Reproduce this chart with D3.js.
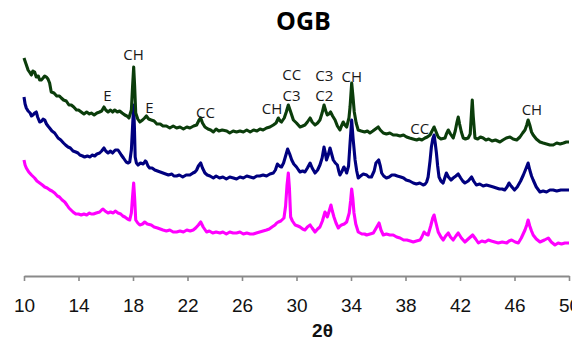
<!DOCTYPE html>
<html>
<head>
<meta charset="utf-8">
<script src="https://cdn.jsdelivr.net/npm/d3@7"></script>
<style>
  html, body { margin: 0; padding: 0; background: #fff; }
  svg { display: block; }
</style>
</head>
<body>
<script>
// ---- DATA: [2θ (deg), intensity (a.u., offset as plotted)] ----
const seriesColors = ["#0b3d0b", "#00007f", "#ff00ff"];

const greenData = [[10.0,218],[10.15,212],[10.3,206],[10.45,203],[10.54,201],[10.65,205],[10.78,204],[10.9,199],[11.05,200],[11.15,196],[11.27,196],[11.4,198],[11.52,200],[11.64,199],[11.76,197],[11.88,193],[12.0,184],[12.2,183],[12.4,180],[12.6,180],[12.74,178],[12.9,176],[13.1,175],[13.3,171],[13.47,171],[13.65,169],[13.85,166],[14.0,166],[14.2,164],[14.4,162],[14.6,164],[14.8,162],[14.94,163],[15.15,161],[15.35,163],[15.55,164],[15.7,165],[15.87,169],[16.0,166],[16.17,164],[16.35,166],[16.5,164],[16.66,166],[16.85,164],[17.02,165],[17.2,163],[17.4,161],[17.55,160],[17.7,158],[17.88,166],[17.97,190],[18.05,209],[18.12,190],[18.2,163],[18.35,157],[18.5,154],[18.7,156],[18.85,158],[18.98,160],[19.15,157],[19.34,156],[19.55,155],[19.75,152],[20.0,152],[20.2,150],[20.45,150],[20.7,148],[20.95,150],[21.2,148],[21.45,149],[21.7,147],[21.95,149],[22.18,148],[22.45,150],[22.67,151],[22.85,156],[22.97,158],[23.1,153],[23.28,149],[23.5,147],[23.7,146],[23.9,144],[24.1,147],[24.3,145],[24.55,146],[24.88,145],[25.1,143],[25.35,145],[25.6,144],[25.85,145],[26.1,144],[26.35,146],[26.6,144],[26.85,146],[27.1,145],[27.32,147],[27.55,146],[27.8,148],[28.05,149],[28.3,151],[28.5,153],[28.67,158],[28.8,155],[28.9,154],[29.1,158],[29.25,164],[29.4,171],[29.55,165],[29.77,156],[30.0,153],[30.26,149],[30.45,150],[30.62,151],[30.8,154],[31.0,158],[31.15,154],[31.36,151],[31.55,153],[31.72,156],[31.88,163],[32.02,171],[32.15,165],[32.26,161],[32.38,162],[32.5,164],[32.65,160],[32.83,156],[33.0,150],[33.19,146],[33.3,150],[33.43,154],[33.55,151],[33.68,149],[33.85,158],[33.93,169],[34.05,193],[34.14,180],[34.24,164],[34.38,153],[34.53,146],[34.75,145],[35.0,144],[35.2,145],[35.39,143],[35.6,145],[35.8,147],[36.0,149],[36.15,146],[36.37,143],[36.6,142],[36.85,143],[37.1,141],[37.35,141],[37.6,140],[37.85,141],[38.08,139],[38.3,138],[38.55,137],[38.82,136],[39.0,137],[39.2,136],[39.43,138],[39.6,139],[39.8,141],[39.95,145],[40.1,149],[40.25,144],[40.4,139],[40.6,137],[40.9,138],[41.0,142],[41.14,146],[41.3,142],[41.5,138],[41.65,145],[41.78,154],[41.87,159],[41.97,152],[42.1,144],[42.24,138],[42.4,137],[42.6,138],[42.75,142],[42.85,165],[42.9,176],[42.97,160],[43.1,138],[43.3,137],[43.5,139],[43.7,138],[43.9,136],[44.1,137],[44.35,135],[44.6,136],[44.93,134],[45.15,136],[45.4,138],[45.67,139],[45.9,137],[46.16,136],[46.4,139],[46.6,143],[46.77,146],[46.9,151],[47.0,156],[47.12,151],[47.25,144],[47.37,141],[47.6,137],[47.87,134],[48.1,133],[48.35,132],[48.6,131],[48.84,131],[49.1,133],[49.35,132],[49.6,133],[49.8,134],[50.0,134]];

const navyData = [[10.0,179],[10.08,172],[10.17,168],[10.3,165],[10.45,163],[10.55,160],[10.66,161],[10.78,163],[10.9,164],[11.0,159],[11.15,154],[11.3,155],[11.4,157],[11.52,156],[11.65,152],[11.76,150],[11.88,148],[12.05,145],[12.25,143],[12.35,141],[12.5,138],[12.7,136],[12.9,133],[13.05,131],[13.23,129],[13.4,128],[13.6,125],[13.8,124],[13.96,123],[14.1,121],[14.3,120],[14.45,119],[14.65,120],[14.85,119],[15.0,121],[15.19,120],[15.35,122],[15.55,123],[15.7,125],[15.87,128],[16.0,125],[16.17,123],[16.35,125],[16.5,123],[16.7,126],[16.9,126],[17.0,124],[17.14,121],[17.3,118],[17.5,114],[17.65,113],[17.76,114],[17.88,126],[17.97,150],[18.05,171],[18.1,150],[18.16,119],[18.25,113],[18.37,111],[18.55,113],[18.75,112],[18.9,115],[18.98,114],[19.1,110],[19.22,108],[19.4,108],[19.6,106],[19.8,105],[20.0,104],[20.2,103],[20.4,102],[20.6,101],[20.85,102],[21.0,100],[21.2,100],[21.4,101],[21.65,99],[21.9,101],[22.18,101],[22.4,103],[22.55,104],[22.67,106],[22.8,110],[22.97,113],[23.1,108],[23.28,103],[23.45,101],[23.65,100],[23.9,98],[24.1,100],[24.35,98],[24.6,99],[24.85,97],[25.1,99],[25.37,98],[25.6,97],[25.85,99],[26.1,98],[26.35,100],[26.6,99],[26.85,98],[27.08,100],[27.3,100],[27.55,101],[27.8,100],[28.05,102],[28.3,103],[28.45,106],[28.6,112],[28.75,110],[28.9,109],[29.05,113],[29.2,120],[29.35,127],[29.5,122],[29.65,116],[29.8,112],[30.0,109],[30.15,106],[30.26,104],[30.45,105],[30.62,104],[30.8,108],[31.0,113],[31.15,108],[31.36,103],[31.55,106],[31.72,111],[31.88,118],[32.02,129],[32.1,124],[32.2,116],[32.33,121],[32.46,128],[32.58,122],[32.7,116],[32.85,113],[33.0,111],[33.1,105],[33.19,101],[33.35,105],[33.48,109],[33.6,106],[33.68,103],[33.82,110],[33.93,133],[34.05,156],[34.15,138],[34.3,116],[34.42,105],[34.53,98],[34.7,100],[34.9,102],[35.15,101],[35.3,99],[35.5,99],[35.7,105],[35.83,113],[36.03,116],[36.15,110],[36.25,103],[36.4,100],[36.6,98],[36.8,99],[37.0,101],[37.2,101],[37.4,100],[37.65,99],[37.86,98],[38.05,96],[38.3,95],[38.57,93],[38.8,92],[39.05,93],[39.3,91],[39.45,92],[39.55,94],[39.66,99],[39.8,115],[39.9,129],[40.0,137],[40.1,141],[40.18,133],[40.27,123],[40.36,110],[40.46,99],[40.6,95],[40.76,93],[40.88,98],[41.0,103],[41.15,99],[41.34,96],[41.5,98],[41.7,100],[41.87,102],[42.05,98],[42.2,95],[42.36,93],[42.6,95],[42.85,99],[43.0,95],[43.2,91],[43.45,92],[43.7,90],[43.94,91],[44.2,90],[44.45,89],[44.67,88],[44.9,87],[45.1,87],[45.28,86],[45.45,89],[45.6,93],[45.75,90],[46.0,86],[46.2,89],[46.45,95],[46.65,101],[46.8,106],[47.0,113],[47.12,106],[47.25,100],[47.37,96],[47.6,89],[47.87,84],[48.1,85],[48.35,84],[48.6,86],[48.84,86],[49.1,85],[49.4,86],[49.7,86],[50.0,86]];

const pinkData = [[10.0,116],[10.08,111],[10.17,108],[10.35,104],[10.55,101],[10.78,98],[10.95,95],[11.15,93],[11.35,91],[11.52,89],[11.7,88],[11.9,86],[12.05,85],[12.25,83],[12.45,80],[12.6,79],[12.8,76],[12.99,74],[13.15,71],[13.3,68],[13.45,66],[13.6,64],[13.8,62],[14.0,62],[14.2,61],[14.4,62],[14.6,61],[14.8,63],[14.94,62],[15.1,62],[15.3,63],[15.55,64],[15.7,66],[15.8,67],[15.95,65],[16.17,63],[16.35,64],[16.55,63],[16.7,65],[16.9,63],[17.1,62],[17.25,60],[17.4,59],[17.6,57],[17.76,56],[17.88,63],[17.97,80],[18.05,93],[18.12,78],[18.2,56],[18.35,53],[18.5,51],[18.7,52],[18.86,54],[19.05,52],[19.34,51],[19.55,49],[19.8,48],[20.0,47],[20.2,46],[20.45,45],[20.7,46],[20.95,44],[21.2,44],[21.45,45],[21.7,44],[21.95,46],[22.2,45],[22.42,46],[22.6,48],[22.8,51],[22.97,54],[23.15,49],[23.4,44],[23.6,45],[23.85,43],[24.1,44],[24.38,43],[24.6,44],[24.85,42],[25.1,44],[25.35,43],[25.6,43],[25.85,44],[26.1,42],[26.35,43],[26.6,42],[26.83,42],[27.05,43],[27.3,44],[27.55,45],[27.8,46],[28.0,47],[28.2,49],[28.42,51],[28.55,53],[28.67,54],[28.85,55],[29.08,58],[29.2,70],[29.3,90],[29.4,103],[29.48,88],[29.57,59],[29.7,55],[29.9,51],[30.1,50],[30.26,49],[30.45,47],[30.62,46],[30.8,49],[31.0,51],[31.15,48],[31.36,44],[31.55,47],[31.72,49],[31.9,55],[32.09,64],[32.18,62],[32.26,59],[32.4,65],[32.53,71],[32.63,65],[32.75,59],[32.9,53],[33.07,48],[33.2,50],[33.3,51],[33.5,52],[33.68,54],[33.87,63],[33.97,75],[34.05,87],[34.13,78],[34.22,63],[34.35,52],[34.53,44],[34.8,42],[35.0,42],[35.15,41],[35.4,42],[35.64,43],[35.85,48],[36.06,53],[36.2,46],[36.37,41],[36.6,42],[36.85,41],[37.1,41],[37.35,39],[37.6,38],[37.86,36],[38.1,36],[38.35,35],[38.57,34],[38.8,35],[39.07,36],[39.2,39],[39.36,44],[39.5,42],[39.66,41],[39.85,50],[40.0,58],[40.1,61],[40.2,55],[40.4,44],[40.6,39],[40.77,36],[40.95,40],[41.14,43],[41.3,39],[41.5,36],[41.7,40],[41.87,43],[42.1,38],[42.36,34],[42.6,37],[42.93,41],[43.15,37],[43.35,33],[43.6,35],[43.85,34],[44.08,36],[44.3,35],[44.55,34],[44.81,33],[45.1,34],[45.43,33],[45.6,35],[45.79,36],[46.05,34],[46.28,33],[46.5,38],[46.77,46],[46.9,51],[47.0,56],[47.12,50],[47.25,45],[47.37,41],[47.6,37],[47.87,34],[48.2,36],[48.48,38],[48.7,34],[48.97,31],[49.2,33],[49.45,32],[49.7,33],[50.0,33]];

const xTicks = [10,14,18,22,26,30,34,38,42,46,50];

const annoText  = ["E","CH","E","CC","CH","CC","C3","C3","C2","CH","CC","CH"];
const annoTheta = [16.13,18.04,19.21,23.32,28.2,29.65,29.63,32.04,32.04,34.06,39.04,47.28];
const annoI     = [175,216,163,158,162,196,175,195.5,175,194,142,161];

const titleText = "OGB";
const xTitle = "2θ";

// ---- CHART ----
const W = 572, H = 340;
const svg = d3.select("body").append("svg").attr("width", W).attr("height", H);

const x = d3.scaleLinear().domain([10, 50]).range([24, 569]);
const y = d3.scaleLinear().domain([0, 260]).range([276, 16]);

const series = [greenData, navyData, pinkData];
const line = d3.line().x(d => x(d[0])).y(d => y(d[1])).curve(d3.curveLinear);

[2, 1, 0].forEach(i => {
  svg.append("path")
    .attr("d", line(series[i]))
    .attr("fill", "none")
    .attr("stroke", seriesColors[i])
    .attr("stroke-width", 3.1)
    .attr("stroke-linejoin", "round");
});

// x axis
const axis = d3.axisBottom(x).tickValues(xTicks).tickSize(5).tickSizeOuter(0).tickPadding(18)
  .tickFormat(d3.format("d"));
const gx = svg.append("g").attr("transform", `translate(0,${y(0)})`).call(axis);
gx.select(".domain").attr("stroke", "#8a8a8a").attr("stroke-width", 2.2);
gx.selectAll(".tick line").attr("stroke", "#8a8a8a").attr("stroke-width", 1.6);
gx.selectAll(".tick text")
  .attr("font-family", "'Liberation Sans', Arial, sans-serif")
  .attr("font-size", 19)
  .attr("fill", "#111");

// x title
svg.append("text")
  .attr("x", x(30) + 26).attr("y", 337)
  .attr("text-anchor", "middle")
  .attr("font-family", "'Liberation Sans', Arial, sans-serif")
  .attr("font-weight", "bold")
  .attr("font-size", 19)
  .attr("fill", "#111")
  .text(xTitle);

// title
svg.append("text")
  .attr("x", 303.5).attr("y", 30)
  .attr("text-anchor", "middle")
  .attr("font-family", "'Open Sans', sans-serif")
  .attr("font-weight", "bold")
  .attr("font-size", 25)
  .attr("fill", "#000")
  .text(titleText);

// peak annotations
svg.append("g").selectAll("text")
  .data(annoText)
  .join("text")
  .attr("x", (d, i) => x(annoTheta[i]))
  .attr("y", (d, i) => y(annoI[i]))
  .attr("text-anchor", "middle")
  .attr("font-family", "'Open Sans', sans-serif")
  .attr("font-size", 15)
  .attr("fill", "#1a1a1a")
  .text(d => d);
</script>
</body>
</html>
